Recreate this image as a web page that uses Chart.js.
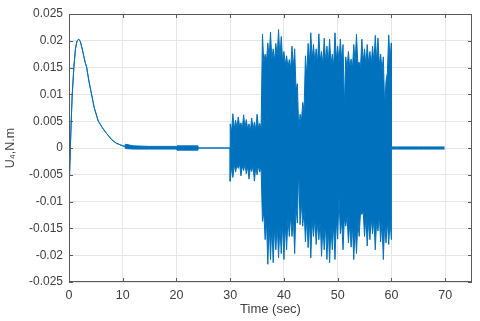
<!DOCTYPE html>
<html>
<head>
<meta charset="utf-8">
<script src="https://cdn.jsdelivr.net/npm/chart.js@4.4.0/dist/chart.umd.min.js"></script>
<style>
  html, body { margin: 0; padding: 0; background: #fff; }
  #wrap { width: 480px; height: 321px; }
</style>
</head>
<body>
<div id="wrap"><canvas id="torqueChart"></canvas></div>
<script>
// axis ticks
const xTicks = [0, 10, 20, 30, 40, 50, 60, 70];
const yTicks = [-0.025, -0.02, -0.015, -0.01, -0.005, 0, 0.005, 0.01, 0.015, 0.02, 0.025];

// start-up transient, single trace (sec, N.m)
const riseTime = [0, 0.25, 0.45, 0.6, 0.9, 1.2, 1.5, 1.8, 2.1, 2.5, 3.0, 3.3, 3.7, 4.2, 4.7, 5.45, 6.2, 7.0, 8.0, 8.8, 10.0, 10.4];
const riseU4 = [-0.0085, 0.0, 0.006, 0.010, 0.015, 0.0185, 0.0200, 0.0203, 0.0199, 0.0183, 0.0160, 0.0150, 0.0125,
                0.0100, 0.0075, 0.0050, 0.0038, 0.0027, 0.0015, 0.0009, 0.0004, 0.0003];

// small ripple band before the disturbance (upper / lower edge of the trace)
const rippleTime = [10.4, 10.5, 12, 15, 20, 20.1, 24, 24.05, 30];
const rippleHigh = [0.0003, 0.0007, 0.0004, 0.0003, 0.0003, 0.0004, 0.0004, 0, 0];
const rippleLow = [0.0003, -0.0001, -0.0002, -0.0002, -0.0002, -0.0004, -0.0004, 0, 0];

// disturbance burst 30 - 60 sec, one reading every 0.25 sec (peak, valley, peak ...)
const burstStart = 30;
const burstStep = 0.25;
const burstHigh = [
  0.0045, 0.0030, 0.0064, 0.0035, 0.0052, 0.0038, 0.0058, 0.0040, 0.0047, 0.0035, 0.0062, 0.0038,
  0.0053, 0.0035, 0.0045, 0.0032, 0.0056, 0.0036, 0.0048, 0.0034, 0.0063, 0.0038, 0.0046, 0.0036,
  0.0212, 0.0160, 0.0175, 0.0162, 0.0196, 0.0168, 0.0216, 0.0165, 0.0185, 0.0162, 0.0195, 0.0170,
  0.0221, 0.0168, 0.0208, 0.0162, 0.0180, 0.0155, 0.0172, 0.0150, 0.0165, 0.0148, 0.0190, 0.0150,
  0.0185, 0.0110, 0.0120, 0.0033, 0.0063, 0.0050, 0.0085, 0.0070, 0.0172, 0.0135, 0.0195, 0.0160,
  0.0215, 0.0165, 0.0193, 0.0160, 0.0185, 0.0158, 0.0213, 0.0162, 0.0180, 0.0155, 0.0205, 0.0160,
  0.0190, 0.0158, 0.0203, 0.0155, 0.0175, 0.0152, 0.0215, 0.0165, 0.0190, 0.0160, 0.0203, 0.0162,
  0.0193, 0.0076, 0.0170, 0.0150, 0.0180, 0.0150, 0.0166, 0.0148, 0.0193, 0.0160, 0.0212, 0.0158,
  0.0160, 0.0150, 0.0203, 0.0160, 0.0185, 0.0155, 0.0193, 0.0158, 0.0180, 0.0155, 0.0190, 0.0160,
  0.0210, 0.0162, 0.0205, 0.0155, 0.0175, 0.0145, 0.0170, 0.0076, 0.0125, 0.0140, 0.0211, 0.0165,
  0.0196
];
const burstLow = [
  -0.0062, -0.0035, -0.0055, -0.0030, -0.0045, -0.0032, -0.0038, -0.0030, -0.0052, -0.0033, -0.0042, -0.0030,
  -0.0048, -0.0034, -0.0058, -0.0036, -0.0044, -0.0032, -0.0062, -0.0036, -0.0050, -0.0034, -0.0045, -0.0035,
  -0.0137, -0.0120, -0.0171, -0.0135, -0.0217, -0.0140, -0.0208, -0.0145, -0.0214, -0.0148, -0.0190, -0.0142,
  -0.0205, -0.0145, -0.0197, -0.0140, -0.0208, -0.0142, -0.0190, -0.0130, -0.0165, -0.0125, -0.0165, -0.0130,
  -0.0197, -0.0110, -0.0140, -0.0035, -0.0143, -0.0100, -0.0146, -0.0115, -0.0175, -0.0130, -0.0186, -0.0135,
  -0.0205, -0.0135, -0.0165, -0.0130, -0.0180, -0.0138, -0.0171, -0.0135, -0.0202, -0.0145, -0.0190, -0.0142,
  -0.0208, -0.0148, -0.0214, -0.0145, -0.0190, -0.0140, -0.0208, -0.0135, -0.0170, -0.0090, -0.0160, -0.0135,
  -0.0190, -0.0130, -0.0146, -0.0128, -0.0177, -0.0140, -0.0185, -0.0145, -0.0208, -0.0145, -0.0197, -0.0138,
  -0.0165, -0.0120, -0.0124, -0.0118, -0.0165, -0.0130, -0.0183, -0.0135, -0.0171, -0.0130, -0.0160, -0.0132,
  -0.0190, -0.0135, -0.0155, -0.0125, -0.0175, -0.0138, -0.0208, -0.0140, -0.0177, -0.0135, -0.0180, -0.0135,
  -0.0171
];

// settled tail after the disturbance
const tailTime = [60, 60.2, 65, 69.9];
const tailHigh = [0.0002, 0.0002, 0.0002, 0.0002];
const tailLow = [-0.0002, -0.0002, -0.0002, -0.0002];

document.addEventListener('DOMContentLoaded', function () {
  const blue = '#0072BD';
  const textColor = '#404040';
  const fontFamily = "'Liberation Sans', Arial, sans-serif";

  // build upper and lower edge of the trace as {x, y} points
  function pairs(times, values) {
    return times.map((t, i) => ({ x: t, y: values[i] }));
  }
  const burstTime = burstHigh.map((v, i) => burstStart + i * burstStep);

  const upperEdge = [].concat(
    pairs(riseTime, riseU4),
    pairs(rippleTime, rippleHigh),
    pairs(burstTime, burstHigh),
    pairs(tailTime, tailHigh)
  );
  const lowerEdge = [].concat(
    pairs(riseTime, riseU4),
    pairs(rippleTime, rippleLow),
    pairs(burstTime, burstLow),
    pairs(tailTime, tailLow)
  );

  // matlab style box with inward tick marks
  const boxPlugin = {
    id: 'matlabBox',
    afterDraw(chart) {
      const { ctx, chartArea: a, scales } = chart;
      ctx.save();
      ctx.strokeStyle = '#5a5a5a';
      ctx.lineWidth = 1;
      ctx.strokeRect(Math.round(a.left) + 0.5, Math.round(a.top) + 0.5,
        Math.round(a.right - a.left) - 1, Math.round(a.bottom - a.top) - 1);
      ctx.beginPath();
      xTicks.forEach(v => {
        const px = Math.round(scales.x.getPixelForValue(v)) + 0.5;
        ctx.moveTo(px, a.bottom); ctx.lineTo(px, a.bottom - 4);
        ctx.moveTo(px, a.top); ctx.lineTo(px, a.top + 4);
      });
      yTicks.forEach(v => {
        const py = Math.round(scales.y.getPixelForValue(v)) + 0.5;
        ctx.moveTo(a.left, py); ctx.lineTo(a.left + 4, py);
        ctx.moveTo(a.right, py); ctx.lineTo(a.right - 4, py);
      });
      ctx.stroke();
      ctx.restore();
    }
  };

  const ctx = document.getElementById('torqueChart').getContext('2d');
  new Chart(ctx, {
    type: 'line',
    data: {
      datasets: [
        {
          label: 'U4 upper',
          data: upperEdge,
          borderColor: blue,
          backgroundColor: blue,
          borderWidth: 1,
          pointRadius: 0,
          tension: 0,
          fill: '+1'
        },
        {
          label: 'U4 lower',
          data: lowerEdge,
          borderColor: blue,
          backgroundColor: blue,
          borderWidth: 1,
          pointRadius: 0,
          tension: 0,
          fill: false
        }
      ]
    },
    options: {
      responsive: true,
      maintainAspectRatio: false,
      animation: false,
      layout: { padding: { top: 14, right: 8, left: 0, bottom: 0 } },
      plugins: {
        legend: { display: false },
        tooltip: { enabled: false }
      },
      scales: {
        x: {
          type: 'linear',
          min: 0,
          max: 75,
          afterBuildTicks: scale => { scale.ticks = xTicks.map(v => ({ value: v })); },
          afterFit: scale => { scale.height = 39; },
          grid: { color: '#e6e6e6', drawTicks: false },
          border: { display: false },
          ticks: {
            padding: 6,
            color: textColor,
            font: { family: fontFamily, size: 12.5 },
            maxRotation: 0
          },
          title: {
            display: true,
            text: 'Time (sec)',
            color: textColor,
            font: { family: fontFamily, size: 13 },
            padding: { top: 0, bottom: 4 }
          }
        },
        y: {
          min: -0.025,
          max: 0.025,
          afterBuildTicks: scale => { scale.ticks = yTicks.map(v => ({ value: v })); },
          afterFit: scale => { scale.width = 69; },
          grid: { color: '#e6e6e6', drawTicks: false },
          border: { display: false },
          ticks: {
            padding: 6,
            color: textColor,
            font: { family: fontFamily, size: 12 },
            callback: v => String(Number(v.toFixed(3)))
          },
          title: {
            display: true,
            text: 'U\u2084,N.m',
            color: textColor,
            font: { family: fontFamily, size: 12.5 },
            padding: { top: 3, bottom: 0 }
          }
        }
      }
    },
    plugins: [boxPlugin]
  });
});
</script>
</body>
</html>
